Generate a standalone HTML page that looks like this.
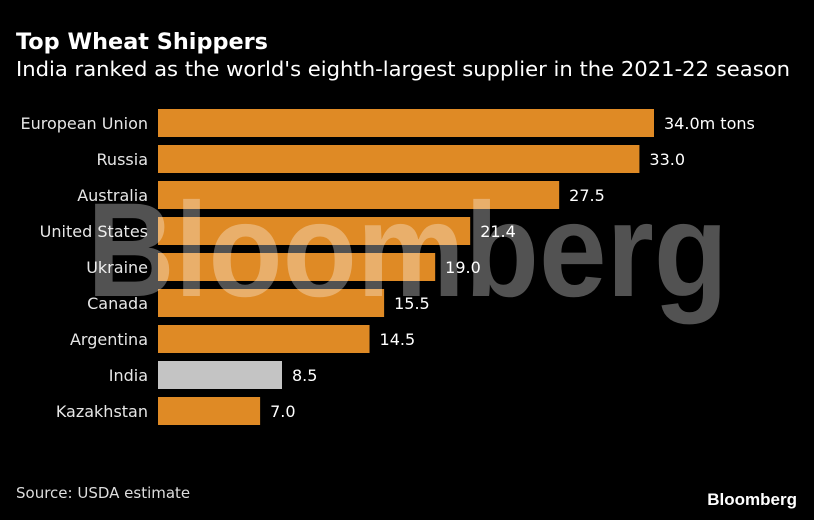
<!DOCTYPE html>
<html><head><meta charset="utf-8">
<style>
html,body{margin:0;padding:0;background:#000;}
body{width:814px;height:516px;overflow:hidden;font-family:"DejaVu Sans","Liberation Sans",sans-serif;}
</style></head>
<body>
<svg width="814" height="516" xmlns="http://www.w3.org/2000/svg" font-family="DejaVu Sans, Liberation Sans, sans-serif">
<rect width="814" height="516" fill="#000"/>
<text x="16" y="49" fill="#fff" font-size="22" font-weight="bold" textLength="252" lengthAdjust="spacingAndGlyphs">Top Wheat Shippers</text>
<text x="16" y="76" fill="#fff" font-size="20" textLength="774" lengthAdjust="spacingAndGlyphs">India ranked as the world's eighth-largest supplier in the 2021-22 season</text>
<g id="bars"></g>
<text x="87" y="296" fill="#fff" fill-opacity="0.32" font-family="Liberation Sans, sans-serif" font-size="134" font-weight="bold" textLength="641" lengthAdjust="spacingAndGlyphs">Bloomberg</text>
<text x="16" y="498" fill="#ddd" font-size="15">Source: USDA estimate</text>
<text x="797" y="505" fill="#fff" font-family="Liberation Sans, sans-serif" font-size="17" font-weight="bold" text-anchor="end">Bloomberg</text>
</svg>
<script>
const categories = ["European Union","Russia","Australia","United States","Ukraine","Canada","Argentina","India","Kazakhstan"];
const values = [34.0,33.0,27.5,21.4,19.0,15.5,14.5,8.5,7.0];
const valueLabels = ["34.0m tons","33.0","27.5","21.4","19.0","15.5","14.5","8.5","7.0"];
const highlight = ["India"];
const NS="http://www.w3.org/2000/svg";
const x0=158, pxPerUnit=496/34;
const xScale=v=>x0+v*pxPerUnit;
const yScale=i=>109+i*36;
const g=document.getElementById('bars');
categories.forEach((c,i)=>{
  const y=yScale(i);
  const r=document.createElementNS(NS,'rect');
  r.setAttribute('x',x0);r.setAttribute('y',y);
  r.setAttribute('width',xScale(values[i])-x0);r.setAttribute('height',28);
  r.setAttribute('fill',highlight.includes(c)?'#c4c4c4':'#df8a25');
  
  
  g.appendChild(r);
  const t=document.createElementNS(NS,'text');
  t.setAttribute('x',148);t.setAttribute('y',y+20);
  t.setAttribute('text-anchor','end');t.setAttribute('fill','#e6e6e6');t.setAttribute('font-size','16');
  t.textContent=c;
  
  
  g.appendChild(t);
  const v=document.createElementNS(NS,'text');
  v.setAttribute('x',xScale(values[i])+10);v.setAttribute('y',y+20);
  v.setAttribute('fill','#fff');v.setAttribute('font-size','16');
  v.textContent=valueLabels[i];
  
  
  g.appendChild(v);
});
</script>
</body></html>
